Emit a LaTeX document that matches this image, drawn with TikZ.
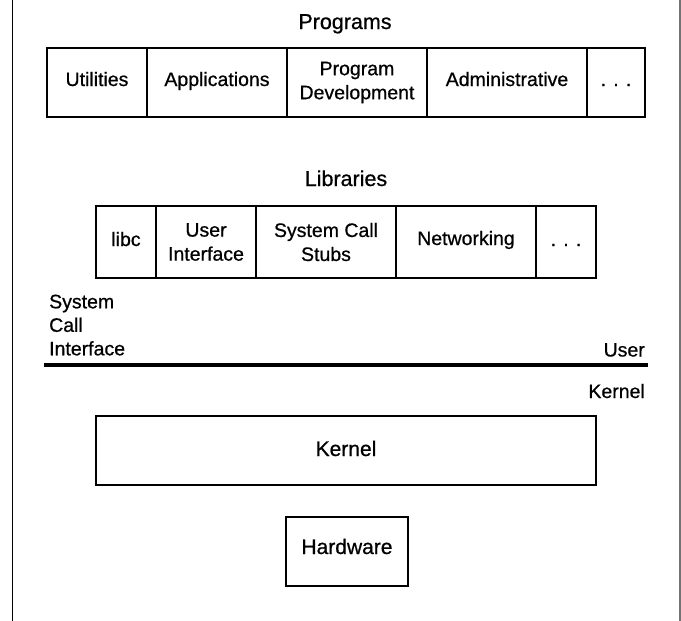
\documentclass[tikz,border=0pt]{standalone}
\usepackage{fontspec}
\setmainfont{Liberation Sans}[BoldFont=Liberation Sans, BoldFeatures={FakeBold=0.7}]
\begin{document}
\begin{tikzpicture}[x=1pt,y=-1pt,
  box/.style={draw, line width=1.8pt, rectangle, inner sep=0pt, anchor=center, align=center},
  progrow/.style={box, minimum height=69pt, font=\fontsize{19.5}{24}\selectfont\bfseries},
  librow/.style={box, minimum height=72pt, font=\fontsize{19.5}{24}\selectfont\bfseries},
  bigbox/.style={box, minimum height=69pt, font=\fontsize{21}{26}\selectfont\bfseries},
  oneline/.style={text height=#1, text depth=0pt},
  head/.style={inner sep=0pt, font=\fontsize{21.5}{26}\selectfont\bfseries},
  side/.style={inner sep=0pt, font=\fontsize{19.5}{23.5}\selectfont\bfseries}]
\useasboundingbox (0,0) rectangle (681,621);
% outer frame (cropped)
\draw[line width=1.5pt] (12.5,-2) -- (12.5,623);
\draw[line width=1.2pt, black!55] (680,-2) -- (680,623);
% Programs
\node[head, anchor=base] (programs) at (345,29) {Programs};
\node[progrow, minimum width=100pt, oneline=7pt] (util) at (97,82.5) {Utilities};
\node[progrow, minimum width=140pt, oneline=7pt] (apps) at (217,82.5) {Applications};
\node[progrow, minimum width=140pt] (pdev) at (357,82.5) {Program\\Development};
\node[progrow, minimum width=160pt, oneline=7pt] (admin) at (507,82.5) {Administrative};
\node[progrow, minimum width=58pt, oneline=7pt] (pmore) at (616,82.5) {. . .};
% Libraries
\node[head, anchor=base] (libraries) at (346,186) {Libraries};
\node[librow, minimum width=60pt, oneline=8pt] (libc) at (126,242) {libc};
\node[librow, minimum width=100pt] (ui) at (206,242) {User\\Interface};
\node[librow, minimum width=140pt] (stubs) at (326,242) {System Call\\Stubs};
\node[librow, minimum width=140pt, oneline=6pt] (net) at (466,242) {Networking};
\node[librow, minimum width=60pt, oneline=8pt] (lmore) at (566,242) {. . .};
% System call interface
\node[side, anchor=north west, align=left] (sci) at (49,294.5) {System\\Call\\Interface};
\node[side, anchor=base east] (user) at (645,356.5) {User};
\coordinate (sl) at (44,365);
\coordinate (sr) at (648,365);
\draw[line width=4pt] (sl) -- (sr);
\node[side, anchor=base east] (klabel) at (645,398) {Kernel};
% Kernel and hardware
\node[bigbox, minimum width=500pt, oneline=11pt] (kernel) at (346,450.5) {Kernel};
\node[bigbox, minimum width=122pt, oneline=5pt] (hw) at (347,551.5) {Hardware};
\end{tikzpicture}
\end{document}
